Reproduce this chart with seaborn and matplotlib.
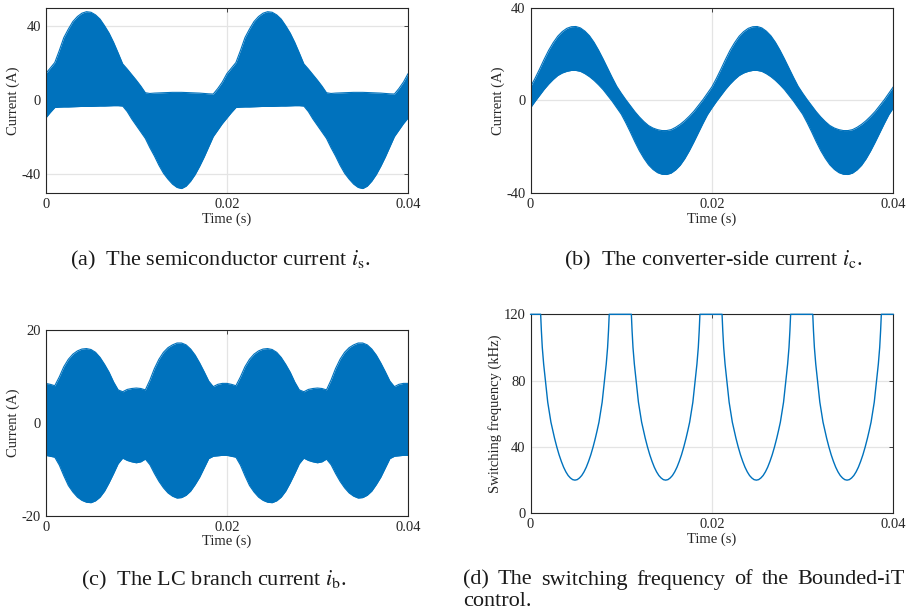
import numpy as np
import pandas as pd
import matplotlib
matplotlib.use("Agg")
import matplotlib.pyplot as plt
import seaborn as sns

# ---------------------------------------------------------------------------
# Envelope samples (every 0.5 ms over two mains periods)
# ---------------------------------------------------------------------------
time_ms = np.arange(0.0, 40.5, 0.5)

# semiconductor current i_s envelope (A)
is_upper = [14.5, 17.5, 20.5, 27.0, 34.0, 38.6, 42.7, 45.4, 47.2, 48.0, 47.7, 46.3, 44.0, 40.4,
            36.4, 31.4, 25.7, 19.8, 17.0, 14.0, 11.0, 7.8, 4.2, 3.8, 4.0, 4.1, 4.2, 4.3, 4.4,
            4.4, 4.4, 4.3, 4.2, 4.1, 4.0, 3.8, 3.6, 3.5, 6.5, 10.0, 14.5,
            17.5, 20.5, 27.0, 34.0, 38.6, 42.7, 45.4, 47.2, 48.0, 47.7, 46.3, 44.0, 40.4,
            36.4, 31.4, 25.7, 19.8, 17.0, 14.0, 11.0, 7.8, 4.2, 3.8, 4.0, 4.1, 4.2, 4.3, 4.4,
            4.4, 4.4, 4.3, 4.2, 4.1, 4.0, 3.8, 3.6, 3.5, 6.5, 10.0, 14.5]
is_lower = [-9.5, -6.5, -3.8, -3.6, -3.5, -3.5, -3.4, -3.3, -3.2, -3.2, -3.2, -3.1, -3.0, -3.0,
            -2.9, -2.8, -2.8, -3.0, -6.0, -10.0, -13.5, -17.0, -20.5, -25.5, -30.0, -35.0,
            -39.3, -42.5, -45.2, -47.0, -47.6, -46.3, -43.6, -40.0, -35.5, -30.5, -25.0,
            -19.5, -16.0, -12.5, -9.5,
            -6.5, -3.8, -3.6, -3.5, -3.5, -3.4, -3.3, -3.2, -3.2, -3.2, -3.1, -3.0, -3.0,
            -2.9, -2.8, -2.8, -3.0, -6.0, -10.0, -13.5, -17.0, -20.5, -25.5, -30.0, -35.0,
            -39.3, -42.5, -45.2, -47.0, -47.6, -46.3, -43.6, -40.0, -35.5, -30.5, -25.0,
            -19.5, -16.0, -12.5, -9.5]

# converter-side current i_c envelope (A)
ic_upper = [5.9, 9.6, 13.6, 17.8, 21.7, 25.0, 27.8, 29.8, 31.2, 31.9, 32.0, 31.4, 30.0, 28.0,
            25.2, 21.8, 18.0, 14.0, 10.0, 6.2, 3.2, 0.4, -2.2, -4.8, -7.1, -9.1, -10.8, -11.9,
            -12.6, -13.0, -13.0, -12.6, -11.6, -10.3, -8.7, -6.8, -4.7, -2.2, 0.3, 3.1, 5.9,
            9.6, 13.6, 17.8, 21.7, 25.0, 27.8, 29.8, 31.2, 31.9, 32.0, 31.4, 30.0, 28.0,
            25.2, 21.8, 18.0, 14.0, 10.0, 6.2, 3.2, 0.4, -2.2, -4.8, -7.1, -9.1, -10.8, -11.9,
            -12.6, -13.0, -13.0, -12.6, -11.6, -10.3, -8.7, -6.8, -4.7, -2.2, 0.3, 3.1, 5.9]
ic_lower = [-3.2, -0.4, 2.2, 4.8, 7.1, 9.1, 10.8, 11.9, 12.6, 13.0, 13.0, 12.6, 11.6, 10.3,
            8.7, 6.8, 4.7, 2.2, -0.3, -3.1, -5.9, -9.6, -13.6, -17.8, -21.7, -25.0, -27.8,
            -29.8, -31.2, -31.9, -32.0, -31.4, -30.0, -28.0, -25.2, -21.8, -18.0, -14.0,
            -10.0, -6.2, -3.2,
            -0.4, 2.2, 4.8, 7.1, 9.1, 10.8, 11.9, 12.6, 13.0, 13.0, 12.6, 11.6, 10.3,
            8.7, 6.8, 4.7, 2.2, -0.3, -3.1, -5.9, -9.6, -13.6, -17.8, -21.7, -25.0, -27.8,
            -29.8, -31.2, -31.9, -32.0, -31.4, -30.0, -28.0, -25.2, -21.8, -18.0, -14.0,
            -10.0, -6.2, -3.2]

# LC branch current i_b envelope (A)
ib_upper = [8.5, 8.3, 8.0, 9.9, 12.1, 13.7, 14.8, 15.5, 15.9, 16.0, 15.8, 15.2, 14.1, 12.6,
            10.9, 8.8, 7.1, 6.7, 7.2, 7.4, 7.5, 7.4, 7.1, 9.2, 11.7, 13.7, 15.2, 16.2, 16.8,
            17.2, 17.2, 16.8, 15.9, 14.6, 12.9, 11.0, 9.0, 7.8, 8.3, 8.5, 8.5,
            8.3, 8.0, 9.9, 12.1, 13.7, 14.8, 15.5, 15.9, 16.0, 15.8, 15.2, 14.1, 12.6,
            10.9, 8.8, 7.1, 6.7, 7.2, 7.4, 7.5, 7.4, 7.1, 9.2, 11.7, 13.7, 15.2, 16.2, 16.8,
            17.2, 17.2, 16.8, 15.9, 14.6, 12.9, 11.0, 9.0, 7.8, 8.3, 8.5, 8.5]
ib_lower = [-7.0, -7.2, -7.4, -9.1, -11.4, -13.5, -14.9, -16.0, -16.7, -17.1, -17.2, -16.8,
            -16.0, -14.7, -12.9, -10.9, -8.8, -7.6, -8.1, -8.4, -8.6, -8.4, -7.8, -9.0, -10.9,
            -12.6, -14.0, -15.1, -15.8, -16.2, -16.1, -15.6, -14.7, -13.3, -11.7, -9.7, -7.7,
            -7.2, -7.1, -7.0, -7.0,
            -7.2, -7.4, -9.1, -11.4, -13.5, -14.9, -16.0, -16.7, -17.1, -17.2, -16.8,
            -16.0, -14.7, -12.9, -10.9, -8.8, -7.6, -8.1, -8.4, -8.6, -8.4, -7.8, -9.0, -10.9,
            -12.6, -14.0, -15.1, -15.8, -16.2, -16.1, -15.6, -14.7, -13.3, -11.7, -9.7, -7.7,
            -7.2, -7.1, -7.0, -7.0]

# switching frequency of the Bounded-iTCC control (kHz)
fsw_time_ms = [0.0,
               1.12, 1.2, 1.3, 1.45, 1.65, 1.9, 2.1, 2.25, 2.45, 2.65, 2.9, 3.15, 3.4, 3.65, 3.9,
               4.15, 4.4, 4.65, 4.9, 5.15, 5.4, 5.65, 5.9, 6.15, 6.4, 6.65, 6.9, 7.15, 7.35, 7.55,
               7.7, 7.9, 8.15, 8.35, 8.5, 8.6, 8.68,
               11.12, 11.2, 11.3, 11.45, 11.65, 11.9, 12.1, 12.25, 12.45, 12.65, 12.9, 13.15, 13.4,
               13.65, 13.9, 14.15, 14.4, 14.65, 14.9, 15.15, 15.4, 15.65, 15.9, 16.15, 16.4, 16.65,
               16.9, 17.15, 17.35, 17.55, 17.7, 17.9, 18.15, 18.35, 18.5, 18.6, 18.68,
               21.12, 21.2, 21.3, 21.45, 21.65, 21.9, 22.1, 22.25, 22.45, 22.65, 22.9, 23.15, 23.4,
               23.65, 23.9, 24.15, 24.4, 24.65, 24.9, 25.15, 25.4, 25.65, 25.9, 26.15, 26.4, 26.65,
               26.9, 27.15, 27.35, 27.55, 27.7, 27.9, 28.15, 28.35, 28.5, 28.6, 28.68,
               31.12, 31.2, 31.3, 31.45, 31.65, 31.9, 32.1, 32.25, 32.45, 32.65, 32.9, 33.15, 33.4,
               33.65, 33.9, 34.15, 34.4, 34.65, 34.9, 35.15, 35.4, 35.65, 35.9, 36.15, 36.4, 36.65,
               36.9, 37.15, 37.35, 37.55, 37.7, 37.9, 38.15, 38.35, 38.5, 38.6, 38.68,
               40.0]
fsw_khz = [120,
           120, 110, 100, 90, 80, 67, 60, 55, 50, 45.3, 40, 35.3, 31.3, 27.8, 25, 22.8, 21.3, 20.3,
           20, 20.3, 21.3, 22.8, 25, 27.8, 31.3, 35.3, 40, 45.3, 50, 55, 60, 67, 80, 90, 100, 110, 120,
           120, 110, 100, 90, 80, 67, 60, 55, 50, 45.3, 40, 35.3, 31.3, 27.8, 25, 22.8, 21.3, 20.3,
           20, 20.3, 21.3, 22.8, 25, 27.8, 31.3, 35.3, 40, 45.3, 50, 55, 60, 67, 80, 90, 100, 110, 120,
           120, 110, 100, 90, 80, 67, 60, 55, 50, 45.3, 40, 35.3, 31.3, 27.8, 25, 22.8, 21.3, 20.3,
           20, 20.3, 21.3, 22.8, 25, 27.8, 31.3, 35.3, 40, 45.3, 50, 55, 60, 67, 80, 90, 100, 110, 120,
           120, 110, 100, 90, 80, 67, 60, 55, 50, 45.3, 40, 35.3, 31.3, 27.8, 25, 22.8, 21.3, 20.3,
           20, 20.3, 21.3, 22.8, 25, 27.8, 31.3, 35.3, 40, 45.3, 50, 55, 60, 67, 80, 90, 100, 110, 120,
           120]

x_ticks = [0.0, 0.02, 0.04]
x_tick_labels = ["0", "0.02", "0.04"]

captions = [
    r"(a)  The semiconductor current $i_\mathrm{s}$.",
    r"(b)  The converter-side current $i_\mathrm{c}$.",
    r"(c)  The LC branch current $i_\mathrm{b}$.",
]
# justified first line of caption (d), word by word, and its second line
caption_d_words = ["(d)", "The", "switching", "frequency", "of", "the", "Bounded-iT"]
caption_d_line2 = "control."

# ---------------------------------------------------------------------------
BLUE = "#0072BD"
INK = "#262626"

sns.set_theme(style="white")
plt.rcParams["font.family"] = ["Liberation Serif", "DejaVu Serif"]
plt.rcParams["mathtext.fontset"] = "stix"

fig = plt.figure(figsize=(9.08, 6.14), dpi=100)
W, H = 908.0, 614.0


def axes_px(left, top, right, bottom):
    return fig.add_axes([left / W, 1 - bottom / H, (right - left) / W, (bottom - top) / H])


def style(ax, ylim, yticks, ylabel):
    ax.set_xlim(0, 0.04)
    ax.set_ylim(*ylim)
    ax.set_xticks(x_ticks)
    ax.set_xticklabels(x_tick_labels)
    ax.set_yticks(yticks)
    ax.set_yticklabels([str(v) for v in yticks])
    ax.grid(True, color="#e4e4e4", linewidth=0.9)
    ax.set_axisbelow(True)
    ax.tick_params(direction="in", length=3, width=0.6, top=True, right=True,
                   labelsize=10.5, colors=INK, pad=3.5)
    for s in ax.spines.values():
        s.set_visible(True)
        s.set_color(INK)
        s.set_linewidth(0.8)
    ax.set_xlabel("Time (s)", fontsize=10.5, color=INK, labelpad=1)
    ax.set_ylabel(ylabel, fontsize=10.5, color=INK, labelpad=1)


def band(ax, upper, lower):
    df = pd.DataFrame({"t": time_ms / 1000.0, "upper": upper, "lower": lower})
    ax.fill_between(df["t"], df["lower"], df["upper"], color=BLUE, linewidth=0, zorder=2)
    sns.lineplot(data=df, x="t", y="upper", ax=ax, color=BLUE, linewidth=0.8, zorder=2)
    sns.lineplot(data=df, x="t", y="lower", ax=ax, color=BLUE, linewidth=0.8, zorder=2)


ax_a = axes_px(45.7, 8, 408, 193)
band(ax_a, is_upper, is_lower)
style(ax_a, (-50, 50), [-40, 0, 40], "Current (A)")

ax_b = axes_px(530.5, 8, 893.3, 193)
band(ax_b, ic_upper, ic_lower)
style(ax_b, (-40, 40), [-40, 0, 40], "Current (A)")

ax_c = axes_px(45.7, 330, 408, 515.7)
band(ax_c, ib_upper, ib_lower)
style(ax_c, (-20, 20), [-20, 0, 20], "Current (A)")

ax_d = axes_px(530.5, 314.3, 893.3, 513.3)
df_f = pd.DataFrame({"t": np.array(fsw_time_ms) / 1000.0, "f": fsw_khz})
sns.lineplot(data=df_f, x="t", y="f", ax=ax_d, color=BLUE, linewidth=1.0,
             sort=False, clip_on=False, zorder=3)
style(ax_d, (0, 120), [0, 40, 80, 120], "Switching frequency (kHz)")

cap_size = 16
cap_kw = dict(va="center", fontsize=cap_size, color="#1a1a1a")
fig.text(220 / W, 1 - 260 / H, captions[0], ha="center", **cap_kw)
fig.text(713 / W, 1 - 260 / H, captions[1], ha="center", **cap_kw)
fig.text(214 / W, 1 - 580 / H, captions[2], ha="center", **cap_kw)

# justify the first line of caption (d) between x = 463 px and x = 905 px
line_left, line_right = 463.0, 905.0
word_artists = [fig.text(0, 1 - 580 / H, w, ha="left", **cap_kw) for w in caption_d_words]
renderer = fig.canvas.get_renderer()
widths = [a.get_window_extent(renderer).width for a in word_artists]
gap = (line_right - line_left - sum(widths)) / (len(widths) - 1)
x_cursor = line_left
for a, w in zip(word_artists, widths):
    a.set_x(x_cursor / W)
    x_cursor += w + gap
fig.text(line_left / W, 1 - 602 / H, caption_d_line2, ha="left", **cap_kw)

fig.savefig("out.png", dpi=100)
